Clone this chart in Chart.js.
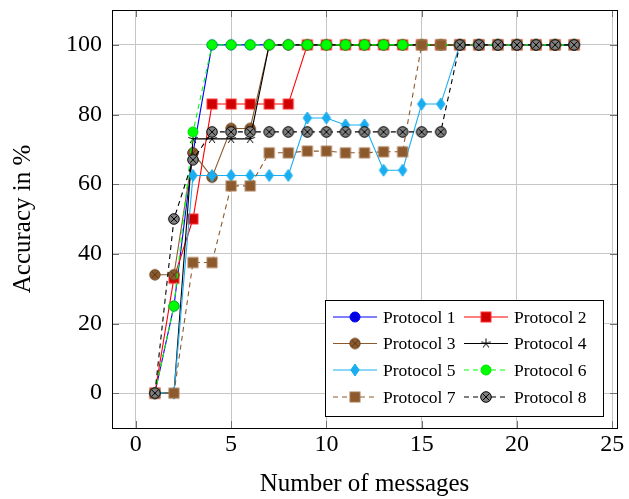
<!DOCTYPE html>
<html>
<head>
<meta charset="utf-8">
<script src="https://cdn.jsdelivr.net/npm/chart.js@4/dist/chart.umd.min.js"></script>
<style>
html,body{margin:0;padding:0;background:#fff;}
#wrap{width:629px;height:499px;}
</style>
</head>
<body>
<div id="wrap"><canvas id="c" width="629" height="499"></canvas></div>
<script>
// ---- data ----
const messages = [1,2,3,4,5,6,7,8,9,10,11,12,13,14,15,16,17,18,19,20,21,22,23];
const protocol1 = [0,25,69,100,100,100,100,100,100,100,100,100,100,100,100,100,100,100,100,100,100,100,100];
const protocol2 = [0,33,50,83,83,83,83,83,100,100,100,100,100,100,100,100,100,100,100,100,100,100,100];
const protocol3 = [34,34,69,62,76,76,100,100,100,100,100,100,100,100,100,100,100,100,100,100,100,100,100];
const protocol4 = [0,0,73,73,73,73,100,100,100,100,100,100,100,100,100,100,100,100,100,100,100,100,100];
const protocol5 = [0,0,62.5,62.5,62.5,62.5,62.5,62.5,79,79,77,77,64,64,83,83,100,100,100,100,100,100,100];
const protocol6 = [0,25,75,100,100,100,100,100,100,100,100,100,100,100,100,100,100,100,100,100,100,100,100];
const protocol7 = [0,0,37.5,37.5,59.5,59.5,69,69,69.5,69.5,69,69,69.3,69.3,100,100,100,100,100,100,100,100,100];
const protocol8 = [0,50,67,75,75,75,75,75,75,75,75,75,75,75,75,75,100,100,100,100,100,100,100];
const seriesNames = ['Protocol 1','Protocol 2','Protocol 3','Protocol 4','Protocol 5','Protocol 6','Protocol 7','Protocol 8'];
const xTickValues = [0,5,10,15,20,25];
const yTickValues = [0,20,40,60,80,100];
const xTitle = 'Number of messages';
const yTitle = 'Accuracy in %';

// ---- marker images ----
const FONT = "'Liberation Serif','Times New Roman',serif";
function mk(w,h,fn){const c=document.createElement('canvas');c.width=w;c.height=h;const g=c.getContext('2d');fn(g,w/2,h/2);return c;}
function circ(fill,stroke,r,cross,crossColor){
  return mk(14,14,(g,cx,cy)=>{
    g.beginPath();g.arc(cx,cy,r,0,Math.PI*2);g.fillStyle=fill;g.fill();
    g.lineWidth=1;g.strokeStyle=stroke;g.stroke();
    if(cross){const d=r*0.7;g.beginPath();g.moveTo(cx-d,cy-d);g.lineTo(cx+d,cy+d);g.moveTo(cx+d,cy-d);g.lineTo(cx-d,cy+d);g.strokeStyle=crossColor;g.lineWidth=1;g.stroke();}
  });
}
function sq(fill,stroke,s){
  return mk(14,14,(g,cx,cy)=>{g.fillStyle=fill;g.fillRect(cx-s/2,cy-s/2,s,s);g.lineWidth=1;g.strokeStyle=stroke;g.strokeRect(cx-s/2,cy-s/2,s,s);});
}
function diamond(fill,hw,hh){
  return mk(14,16,(g,cx,cy)=>{g.beginPath();g.moveTo(cx,cy-hh);g.lineTo(cx+hw,cy);g.lineTo(cx,cy+hh);g.lineTo(cx-hw,cy);g.closePath();g.fillStyle=fill;g.fill();g.strokeStyle=fill;g.lineWidth=1;g.stroke();});
}
function star(color,r){
  return mk(14,14,(g,cx,cy)=>{g.beginPath();for(let k=0;k<5;k++){const a=-Math.PI/2+k*2*Math.PI/5;g.moveTo(cx,cy);g.lineTo(cx+r*Math.cos(a),cy+r*Math.sin(a));}g.strokeStyle=color;g.lineWidth=1;g.stroke();});
}
const BROWN='#8c5a2d', CYAN='#1aaef0';
const markers = [
  circ('#0000e0','#0000ff',5,false),
  sq('#d00000','#ff3030',10),
  circ(BROWN,'#6e4522',5.2,true,'#5a3a1c'),
  star('#000000',5),
  diamond(CYAN,4.2,6),
  circ('#00ff00','#00e000',5,false),
  sq(BROWN,'#a87850',10),
  circ('#808080','#000000',5.3,true,'#000000')
];
const lineColors = ['#0000ff','#ff0000',BROWN,'#000000',CYAN,'#00ff00',BROWN,'#000000'];
const dashes = [[],[],[],[],[],[5,4],[5,4],[5,4]];
const values = [protocol1,protocol2,protocol3,protocol4,protocol5,protocol6,protocol7,protocol8];

const datasets = values.map((vals,i)=>({
  label: seriesNames[i],
  data: messages.map((x,j)=>({x:x,y:vals[j]})),
  borderColor: lineColors[i],
  backgroundColor: lineColors[i],
  borderWidth: 1.1,
  borderDash: dashes[i],
  pointStyle: markers[i],
  pointRadius: 5,
  tension: 0,
  order: 8 - i
}));

// ---- plugins ----
const framePlugin = {
  id:'frame',
  afterDatasetsDraw(chart){
    const {ctx, chartArea:a, scales:{x,y}} = chart;
    ctx.save();
    // inward tick marks
    ctx.strokeStyle='#707070'; ctx.lineWidth=1;
    ctx.beginPath();
    xTickValues.forEach(v=>{const px=Math.round(x.getPixelForValue(v))+0.5;ctx.moveTo(px,a.bottom);ctx.lineTo(px,a.bottom-7);ctx.moveTo(px,a.top);ctx.lineTo(px,a.top+7);});
    yTickValues.forEach(v=>{const py=Math.round(y.getPixelForValue(v))+0.5;ctx.moveTo(a.left,py);ctx.lineTo(a.left+7,py);ctx.moveTo(a.right,py);ctx.lineTo(a.right-7,py);});
    ctx.stroke();
    ctx.strokeStyle='#000'; ctx.lineWidth=1;
    ctx.strokeRect(Math.round(a.left)+0.5,Math.round(a.top)+0.5,Math.round(a.right-a.left),Math.round(a.bottom-a.top));
    // legend
    const L=325,T=300,R=603,B=416;
    ctx.fillStyle='#fff'; ctx.fillRect(L,T,R-L,B-T);
    ctx.strokeStyle='#000'; ctx.strokeRect(L+0.5,T+0.5,R-L,B-T);
    const rows=[317,343.5,370,397];
    const cols=[{l0:333,l1:377,m:355,t:383},{l0:464,l1:508,m:486,t:514}];
    ctx.font='17.5px '+FONT; ctx.textBaseline='middle'; ctx.textAlign='left';
    seriesNames.forEach((name,i)=>{
      const c=cols[i%2], yy=rows[Math.floor(i/2)];
      ctx.beginPath(); ctx.setLineDash(dashes[i]); ctx.strokeStyle=lineColors[i]; ctx.lineWidth=1.1;
      ctx.moveTo(c.l0,yy); ctx.lineTo(c.l1,yy); ctx.stroke(); ctx.setLineDash([]);
      const m=markers[i]; ctx.drawImage(m,c.m-m.width/2,yy-m.height/2);
      ctx.fillStyle='#000'; ctx.fillText(name,c.t,yy+1);
    });
    ctx.restore();
  }
};

new Chart(document.getElementById('c'),{
  type:'line',
  data:{datasets:datasets},
  options:{
    responsive:false, animation:false, devicePixelRatio:1,
    layout:{padding:{top:10,right:12,left:0,bottom:0}},
    plugins:{legend:{display:false},tooltip:{enabled:false}},
    scales:{
      x:{type:'linear',min:-1.25,max:25.25,
        afterBuildTicks:s=>{s.ticks=xTickValues.map(v=>({value:v}));},
        afterFit:s=>{s.height=71;s.paddingLeft=0;s.paddingRight=0;},
        grid:{color:'#c6c6c6',drawTicks:false},
        border:{display:false},
        ticks:{padding:2,color:'#000',autoSkip:false,maxRotation:0,font:{family:FONT,size:24}},
        title:{display:true,text:xTitle,color:'#000',font:{family:FONT,size:25},padding:{top:0,bottom:0}}
      },
      y:{type:'linear',min:-10,max:110,
        afterBuildTicks:s=>{s.ticks=yTickValues.map(v=>({value:v}));},
        afterFit:s=>{s.width=112;s.paddingTop=0;s.paddingBottom=0;},
        grid:{color:'#c6c6c6',drawTicks:false},
        border:{display:false},
        ticks:{padding:10,color:'#000',font:{family:FONT,size:24}},
        title:{display:true,text:yTitle,color:'#000',font:{family:FONT,size:25},padding:{top:8,bottom:0}}
      }
    }
  },
  plugins:[framePlugin]
});
</script>
</body>
</html>
